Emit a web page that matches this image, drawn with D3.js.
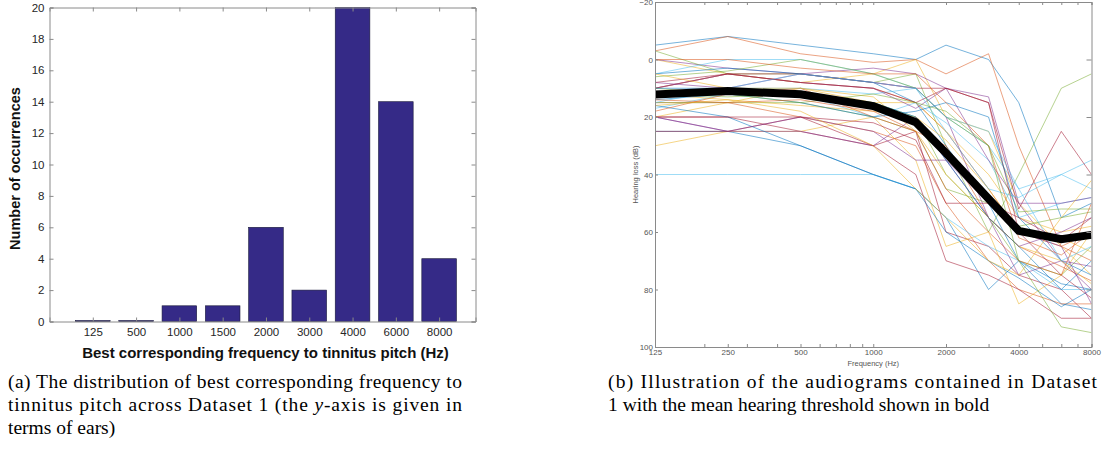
<!DOCTYPE html>
<html>
<meta charset="utf-8">
<script src="https://d3js.org/d3.v7.min.js"></script>
<head>
<style>
body { margin: 0; background: #fff; }
svg text { font-family: "Liberation Sans", Arial, sans-serif; }
.caption { font-family: "Liberation Serif", "Times New Roman", serif; font-size: 19.5px; fill: #000; }
</style>
</head>
<body>
<div id="chart"></div>
<script>

// ---- (a) tinnitus pitch histogram ----
var pitchLabels = ["125", "500", "1000", "1500", "2000", "3000", "4000", "6000", "8000"];
var pitchCounts = [0, 0, 1, 1, 6, 2, 20, 14, 4];
var countTicks = [0, 2, 4, 6, 8, 10, 12, 14, 16, 18, 20];

// ---- (b) audiograms ----
var freqs = [125, 250, 500, 1000, 1500, 2000, 3000, 4000, 6000, 8000];
var freqLabelTicks = [125, 250, 500, 1000, 2000, 4000, 8000];
var freqMinorTicks = [200, 300, 400, 600, 700, 800, 900, 3000, 5000, 6000, 7000];
var lossTicks = [-20, 0, 20, 40, 60, 80, 100];
var meanThreshold = [12.2, 11, 12.1, 16.2, 21.8, 32.5, 48.4, 59.6, 62.5, 61];
var audiograms = [
  [-5, -8, -5, -2, 0, -5, 0, 15, 55, 50],
  [-3, -8, -2, 1, 0, 5, -2, 30, 65, 60],
  [0, 5, 8, 5, 0, 20, 25, 50, 65, 75],
  [0, 3, 5, 3, 5, 10, 13, 50, 70, 80],
  [-3, 5, 5, 8, 5, 30, 60, 40, 10, 5],
  [5, 0, 0, 5, 10, 20, 30, 45, 40, 35],
  [10, 5, 5, 8, 10, 10, 15, 52, 25, 40],
  [5, 3, 5, 8, 15, 30, 50, 70, 78, 80],
  [10, 5, 8, 10, 15, 25, 45, 60, 65, 70],
  [20, 15, 10, 15, 15, 25, 40, 55, 60, 58],
  [8, 10, 5, 8, 10, 20, 55, 65, 60, 55],
  [12, 13, 12, 15, 20, 40, 55, 70, 75, 65],
  [17, 12, 12, 20, 15, 22, 35, 55, 50, 48],
  [20, 20, 25, 30, 25, 60, 65, 75, 80, 90],
  [25, 25, 30, 40, 45, 55, 80, 70, 85, 87],
  [15, 15, 20, 25, 30, 50, 70, 80, 85, 85],
  [30, 25, 25, 20, 35, 65, 60, 85, 75, 60],
  [20, 25, 25, 30, 20, 35, 55, 75, 70, 72],
  [15, 15, 15, 20, 25, 45, 50, 58, 55, 53],
  [40, 40, 40, 40, 45, 55, 65, 70, 80, 80],
  [25, 25, 20, 30, 40, 70, 75, 80, 90, 90],
  [16, 20, 30, 40, 45, 60, 70, 76, 86, 80],
  [18, 12, 10, 20, 25, 30, 55, 65, 72, 77],
  [12, 14, 16, 18, 20, 28, 45, 60, 62, 67],
  [10, 5, 8, 10, 17, 10, 35, 50, 50, 48],
  [6, 4, 0, 5, 10, 20, 30, 53, 52, 52],
  [12, 10, 10, 12, 10, 25, 45, 48, 40, 45],
  [8, 5, 8, 10, 15, 10, 15, 60, 75, 83],
  [14, 12, 15, 20, 18, 15, 20, 55, 70, 75],
  [0, 0, 3, 5, 5, 15, 30, 62, 68, 60],
  [5, 10, 10, 13, 25, 40, 55, 65, 70, 78],
  [20, 25, 20, 25, 35, 35, 50, 60, 65, 85],
  [10, 12, 15, 12, 15, 18, 30, 70, 93, 95],
  [15, 10, 5, 8, 10, 20, 25, 45, 70, 65],
  [20, 20, 20, 22, 28, 50, 50, 55, 63, 55],
  [10, 10, 12, 15, 20, 35, 55, 65, 80, 70],
  [14, 15, 14, 18, 25, 45, 60, 70, 75, 50],
  [16, 14, 18, 30, 45, 55, 70, 75, 55, 42]
];
var lineColors = ["#0072BD", "#D95319", "#EDB120", "#7E2F8E", "#77AC30", "#4DBEEE", "#A2142F"];

var svg = d3.select("#chart")
  .append("svg")
    .attr("width", 1107)
    .attr("height", 451);

/////////////////////////////// left chart

var x1 = d3.scaleLinear().domain([0, 9.84]).range([49.5, 475.5]);
var y1 = d3.scaleLinear().domain([0, 20]).range([321.5, 7.5]);
var barW = 0.8;

var left = svg.append("g");

left.selectAll("bars")
  .data(pitchCounts)
  .enter()
  .append("rect")
    .attr("x", function(d, i) { return x1(i + 1 - barW / 2); })
    .attr("width", x1(barW) - x1(0))
    .attr("y", function(d) { return d > 0 ? y1(d) : y1(0) - 1; })
    .attr("height", function(d) { return d > 0 ? y1(0) - y1(d) : 1; })
    .attr("fill", "#352A87")
    .attr("stroke", "#1a1a3a")
    .attr("stroke-width", 0.6);

var xTickVals = pitchLabels.map(function(d, i) { return i + 1; });

left.append("g")
  .attr("transform", "translate(0," + y1(0) + ")")
  .call(d3.axisBottom(x1).tickValues(xTickVals).tickSize(-4).tickPadding(6)
    .tickFormat(function(d) { return pitchLabels[d - 1]; }));
left.append("g")
  .attr("transform", "translate(0," + y1(20) + ")")
  .call(d3.axisTop(x1).tickValues(xTickVals).tickSize(-4).tickFormat(""));
left.append("g")
  .attr("transform", "translate(" + x1(0) + ",0)")
  .call(d3.axisLeft(y1).tickValues(countTicks).tickSize(-4).tickPadding(5));
left.append("g")
  .attr("transform", "translate(" + x1(9.84) + ",0)")
  .call(d3.axisRight(y1).tickValues(countTicks).tickSize(-4).tickFormat(""));

left.selectAll(".domain").attr("stroke", "#8a8a8a");
left.selectAll(".tick line").attr("stroke", "#8a8a8a");
left.selectAll(".tick text").attr("font-size", "11.5px").attr("fill", "#262626")
  .attr("font-family", "Liberation Sans, Arial, sans-serif");

left.append("text")
  .attr("x", (x1(0) + x1(9.84)) / 2 + 3)
  .attr("y", 358)
  .attr("text-anchor", "middle")
  .attr("font-weight", "bold")
  .attr("font-size", "15px")
  .attr("fill", "#111")
  .text("Best corresponding frequency to tinnitus pitch (Hz)");

left.append("text")
  .attr("transform", "translate(20," + (y1(10) + 4) + ") rotate(-90)")
  .attr("text-anchor", "middle")
  .attr("font-weight", "bold")
  .attr("font-size", "14.5px")
  .attr("fill", "#111")
  .text("Number of occurrences");

/////////////////////////////// right chart

var x2 = d3.scaleLog().domain([125, 8000]).range([655, 1091.5]);
var y2 = d3.scaleLinear().domain([-20, 100]).range([2, 347]);

var right = svg.append("g");

right.append("clipPath").attr("id", "plotclip")
  .append("rect")
    .attr("x", x2(125)).attr("y", y2(-20))
    .attr("width", x2(8000) - x2(125)).attr("height", y2(100) - y2(-20));

var line = d3.line()
  .x(function(d, i) { return x2(freqs[i]); })
  .y(function(d) { return y2(d); });

var plot = right.append("g").attr("clip-path", "url(#plotclip)");

plot.selectAll("audiograms")
  .data(audiograms)
  .enter()
  .append("path")
    .attr("d", line)
    .attr("fill", "none")
    .attr("stroke", function(d, i) { return lineColors[i % lineColors.length]; })
    .attr("stroke-width", 0.9)
    .attr("opacity", 0.6);

plot.append("path")
  .datum(meanThreshold)
  .attr("d", line)
  .attr("fill", "none")
  .attr("stroke", "#000")
  .attr("stroke-width", 8)
  .attr("stroke-linejoin", "miter");

var allFreqTicks = freqLabelTicks.concat(freqMinorTicks);

right.append("g")
  .attr("transform", "translate(0," + y2(100) + ")")
  .call(d3.axisBottom(x2).tickValues(allFreqTicks).tickSize(-3).tickPadding(2)
    .tickFormat(function(d) { return freqLabelTicks.indexOf(d) >= 0 ? d : ""; }));
right.append("g")
  .attr("transform", "translate(0," + y2(-20) + ")")
  .call(d3.axisTop(x2).tickValues(allFreqTicks).tickSize(-3).tickFormat(""));
right.append("g")
  .attr("transform", "translate(" + x2(125) + ",0)")
  .call(d3.axisLeft(y2).tickValues(lossTicks).tickSize(-3).tickPadding(2));
right.append("g")
  .attr("transform", "translate(" + x2(8000) + ",0)")
  .call(d3.axisRight(y2).tickValues(lossTicks).tickSize(-5).tickFormat(""));

right.selectAll(".domain").attr("stroke", "#8a8a8a");
right.selectAll(".tick line").attr("stroke", "#8a8a8a");
right.selectAll(".tick text").attr("font-size", "8px").attr("fill", "#555")
  .attr("font-family", "Liberation Sans, Arial, sans-serif");

right.append("text")
  .attr("x", (x2(125) + x2(8000)) / 2)
  .attr("y", 366)
  .attr("text-anchor", "middle")
  .attr("font-size", "7.5px")
  .attr("fill", "#555")
  .text("Frequency (Hz)");

right.append("text")
  .attr("transform", "translate(638," + y2(40) + ") rotate(-90)")
  .attr("text-anchor", "middle")
  .attr("font-size", "7.5px")
  .attr("fill", "#555")
  .text("Hearing loss (dB)");

/////////////////////////////// captions

svg.append("text").attr("class", "caption").attr("x", 8).attr("y", 388)
  .attr("textLength", 454).attr("lengthAdjust", "spacing")
  .text("(a) The distribution of best corresponding frequency to");
var capA2 = svg.append("text").attr("class", "caption").attr("x", 8).attr("y", 411)
  .attr("textLength", 454).attr("lengthAdjust", "spacing");
capA2.append("tspan").text("tinnitus pitch across Dataset 1 (the ");
capA2.append("tspan").attr("font-style", "italic").text("y");
capA2.append("tspan").text("-axis is given in");
svg.append("text").attr("class", "caption").attr("x", 8).attr("y", 434)
  .text("terms of ears)");

svg.append("text").attr("class", "caption").attr("x", 608).attr("y", 388)
  .attr("textLength", 489).attr("lengthAdjust", "spacing")
  .text("(b) Illustration of the audiograms contained in Dataset");
svg.append("text").attr("class", "caption").attr("x", 608).attr("y", 411)
  .text("1 with the mean hearing threshold shown in bold");

</script>
</body>
</html>
